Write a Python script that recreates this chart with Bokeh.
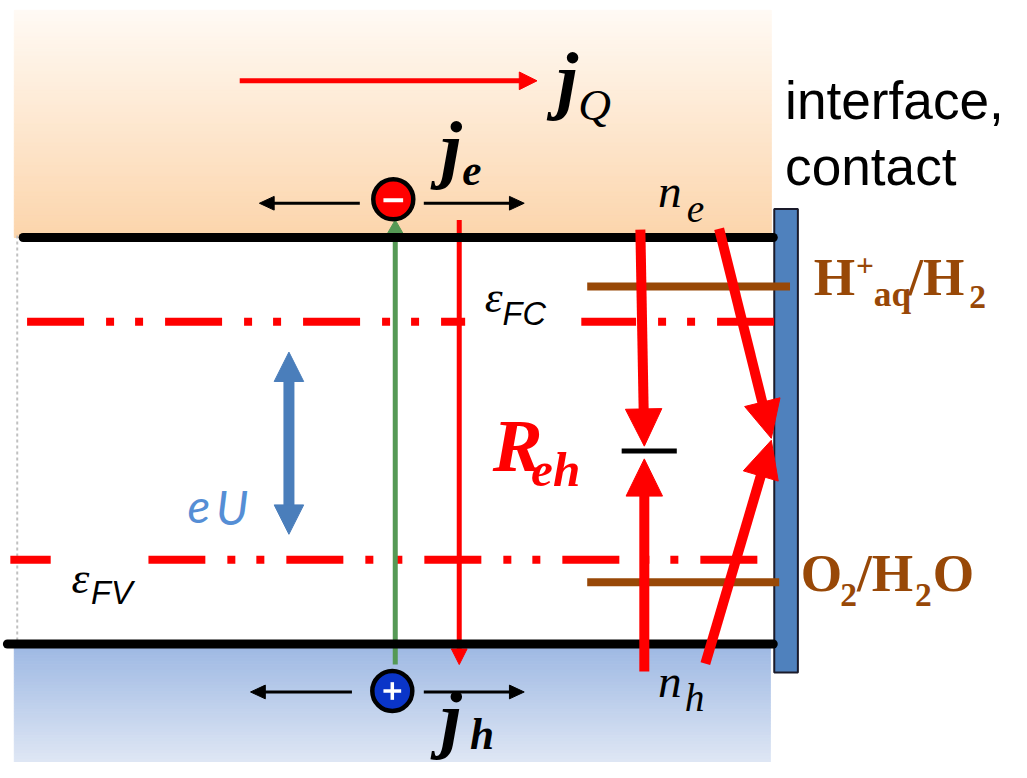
import numpy as np
from bokeh.plotting import figure
from bokeh.models import Range1d
from bokeh.core.properties import value
from bokeh.embed import file_html
from bokeh.resources import INLINE

# ---------------- diagram data (reference pixel coordinates) ----------------
# energy levels: conduction band, quasi-Fermi levels, valence band
level_names = ["E_C", "eps_FC", "eps_FV", "E_V"]
level_y = [242, 328, 571, 657]
level_x0 = [23, 27, 10, 7]
level_x1 = [785, 795, 778, 785]

# redox levels at the interface
redox_names = ["H+aq/H2", "O2/H2O"]
redox_y = [292, 594]
redox_x0 = [596, 596]
redox_x1 = [802, 791]

# carrier flows (x0, y0, x1, y1) -> arrow tip at (x1, y1)
thin_names = ["j_Q", "green", "red_down"]
thin_x0 = [243, 401, 466]
thin_y0 = [82, 678, 224]
thin_x1 = [545, 401, 466]
thin_y1 = [82, 224, 678]

small_x0 = [365, 430, 357, 430]
small_x1 = [263, 532, 254, 532]
small_y = [207, 207, 706, 706]

thick_names = ["n_e->R", "n_h->R", "n_e->contact", "n_h->contact"]
thick_x0 = [650, 654, 730, 716]
thick_y0 = [234, 685, 233, 677]
thick_x1 = [654, 654, 783, 783]
thick_y1 = [455, 468, 447, 449]

carrier_signs = ["-", "+"]
carrier_x = [399, 398]
carrier_y = [203, 705]

eU_x = [293]
eU_y0 = [359]
eU_y1 = [545]

RW, RH = 1027, 778          # reference frame
W, H = 1011, 762            # figure size
FS = W / RW                 # font scale
YU = RH / H                 # data units per screen px (vertical)

p = figure(width=W, height=H, x_range=Range1d(0, RW), y_range=Range1d(RH, 0),
           output_backend="svg", toolbar_location=None, min_border=0,
           x_axis_type=None, y_axis_type=None, outline_line_color=None,
           background_fill_color="white", border_fill_color="white")
p.xgrid.visible = False
p.ygrid.visible = False

SERIF = value("Liberation Serif")
SANS = value("Liberation Sans")


def gradient(x0, x1, y0, y1, c0, c1, n):
    ys = np.linspace(y0, y1, n + 1)
    cols = []
    for i in range(n):
        t = i / (n - 1)
        c = tuple(int(round(c0[k] + (c1[k] - c0[k]) * t)) for k in range(3))
        cols.append("#%02x%02x%02x" % c)
    p.quad(left=x0, right=x1, top=ys[:-1], bottom=ys[1:], fill_color=cols,
           line_color=cols, line_width=1)


def arrow_parts(x0, y0, x1, y1, hl, hw):
    dx, dy = x1 - x0, y1 - y0
    L = float(np.hypot(dx, dy))
    ux, uy = dx / L, dy / L
    bx, by = x1 - ux * hl, y1 - uy * hl
    nx, ny = -uy, ux
    tx = [x1, bx + nx * hw, bx - nx * hw]
    ty = [y1, by + ny * hw, by - ny * hw]
    return bx + ux, by + uy, tx, ty


def draw_arrows(x0s, y0s, x1s, y1s, width, hl, hw, color):
    sx0, sy0, sx1, sy1, txs, tys = [], [], [], [], [], []
    for x0, y0, x1, y1 in zip(x0s, y0s, x1s, y1s):
        bx, by, tx, ty = arrow_parts(x0, y0, x1, y1, hl, hw)
        sx0.append(x0); sy0.append(y0); sx1.append(bx); sy1.append(by)
        txs.append(tx); tys.append(ty)
    p.segment(sx0, sy0, sx1, sy1, line_width=width, line_color=color, line_cap="butt")
    p.patches(txs, tys, fill_color=color, line_color=color, line_width=1)


# backgrounds
gradient(14, 783, 10, 242, (255, 250, 244), (252, 213, 172), 60)
gradient(14, 782, 657, 778, (157, 184, 227), (222, 230, 244), 40)

# dotted left boundary
p.segment([17], [240], [17], [656], line_color="#c0c0c0", line_width=2, line_dash="3 3")

# contact
p.quad(left=[786], right=[810], top=[213], bottom=[686], fill_color="#4f81bd",
       line_color="#1a1a2a", line_width=2)

# quasi-Fermi levels (dash-dot-dot)
fermi = [1, 2]
p.multi_line([[level_x0[i], level_x1[i]] for i in fermi], [[level_y[i], level_y[i]] for i in fermi],
             line_color="#ff0000", line_width=8, line_dash="57 22 8 21 8 22")

# white boxes behind epsilon labels
p.quad(left=[472, 51], right=[590, 150], top=[292, 562], bottom=[336, 625],
       fill_color="white", line_color=None)

# redox levels
p.multi_line([[a, b] for a, b in zip(redox_x0, redox_x1)], [[y, y] for y in redox_y],
             line_color="#984807", line_width=8)

# thin flow arrows
draw_arrows(thin_x0[:1], thin_y0[:1], thin_x1[:1], thin_y1[:1], 5, 18, 9, "#ff0000")
draw_arrows(thin_x0[1:2], thin_y0[1:2], thin_x1[1:2], thin_y1[1:2], 5, 14, 8, "#559955")
draw_arrows(thin_x0[2:], thin_y0[2:], thin_x1[2:], thin_y1[2:], 5, 16, 8, "#ff0000")

# band edges (on top of thin arrows)
band = [0, 3]
p.multi_line([[level_x0[i], level_x1[i]] for i in band], [[level_y[i], level_y[i]] for i in band],
             line_color="black", line_width=9, line_cap="round")

# eU double arrow
bx0, by0, tx0, ty0 = arrow_parts(eU_x[0], eU_y1[0], eU_x[0], eU_y0[0], 30, 15)
bx1, by1, tx1, ty1 = arrow_parts(eU_x[0], eU_y0[0], eU_x[0], eU_y1[0], 30, 15)
p.segment([bx0], [by0], [bx1], [by1], line_color="#4a7ebb", line_width=11)
p.patches([tx0, tx1], [ty0, ty1], fill_color="#4a7ebb", line_color="#4a7ebb")

# small black current-direction arrows
draw_arrows(small_x0, small_y, small_x1, small_y, 3, 15, 7, "black")

# carriers
p.scatter(carrier_x, carrier_y, size=40, marker="circle", fill_color=["#ff0000", "#0a35c8"],
          line_color="black", line_width=4.5)
p.segment([carrier_x[0] - 10], [carrier_y[0] + 1], [carrier_x[0] + 10], [carrier_y[0] + 1],
          line_color="white", line_width=4)
p.segment([carrier_x[1] - 9, carrier_x[1]], [carrier_y[1], carrier_y[1] - 9],
          [carrier_x[1] + 9, carrier_x[1]], [carrier_y[1], carrier_y[1] + 9],
          line_color="white", line_width=3.5)

# thick recombination / transfer arrows
draw_arrows(thick_x0, thick_y0, thick_x1, thick_y1, 10, 38, 18.5, "#ff0000")
p.segment([631], [460], [687], [460], line_color="black", line_width=5)

# ---------------- texts ----------------
K = 0.37  # observed baseline offset of the text glyph, as fraction of font size
pieces = [
    # text, x, baseline y, size, font, style, color
    ("j", 565, 110, 78, SERIF, "bold italic", "black"),
    ("Q", 587, 124, 46, SERIF, "italic", "black"),
    ("j", 447, 180, 78, SERIF, "bold italic", "black"),
    ("e", 469, 190, 44, SERIF, "bold italic", "black"),
    ("j", 447, 762, 78, SERIF, "bold italic", "black"),
    ("h", 477, 765, 44, SERIF, "bold italic", "black"),
    ("n", 668, 212, 48, SERIF, "italic", "black"),
    ("e", 697, 228, 40, SERIF, "italic", "black"),
    ("n", 668, 713, 48, SERIF, "italic", "black"),
    ("h", 695, 727, 40, SERIF, "italic", "black"),
    ("ε", 492, 320, 46, SERIF, "italic", "black"),
    ("FC", 510, 332, 33, SANS, "italic", "black"),
    ("ε", 72, 607, 46, SERIF, "italic", "black"),
    ("FV", 92, 617, 33, SANS, "italic", "black"),
    ("R", 500, 483, 76, SERIF, "bold italic", "#ff0000"),
    ("eh", 539, 497, 50, SERIF, "bold italic", "#ff0000"),
    ("e", 190, 534, 48, value("Lato"), "italic", "#558ed5"),
    ("U", 219, 534, 48, value("Lato"), "italic", "#558ed5"),
    ("interface,", 797, 122, 54, SANS, "normal", "black"),
    ("contact", 797, 190, 54, SANS, "normal", "black"),
    ("H", 826, 303, 54, SERIF, "bold", "#984807"),
    ("+", 869, 282, 32, SERIF, "bold", "#984807"),
    ("aq", 887, 313, 36, SERIF, "bold", "#984807"),
    ("/H", 922, 303, 54, SERIF, "bold", "#984807"),
    ("2", 984, 315, 34, SERIF, "bold", "#984807"),
    ("O", 813, 605, 54, SERIF, "bold", "#984807"),
    ("2", 853, 620, 34, SERIF, "bold", "#984807"),
    ("/H", 870, 605, 54, SERIF, "bold", "#984807"),
    ("2", 929, 620, 34, SERIF, "bold", "#984807"),
    ("O", 947, 605, 54, SERIF, "bold", "#984807"),
]
for t, x, y, s, f, st, c in pieces:
    px = s * FS
    p.text(x=[x], y=[y - K * px * YU], text=[t], text_font=f, text_font_size=f"{px:.1f}px",
           text_font_style=st, text_color=c, text_align="left", text_baseline="alphabetic")

open("out.html", "w").write(file_html(p, INLINE))
